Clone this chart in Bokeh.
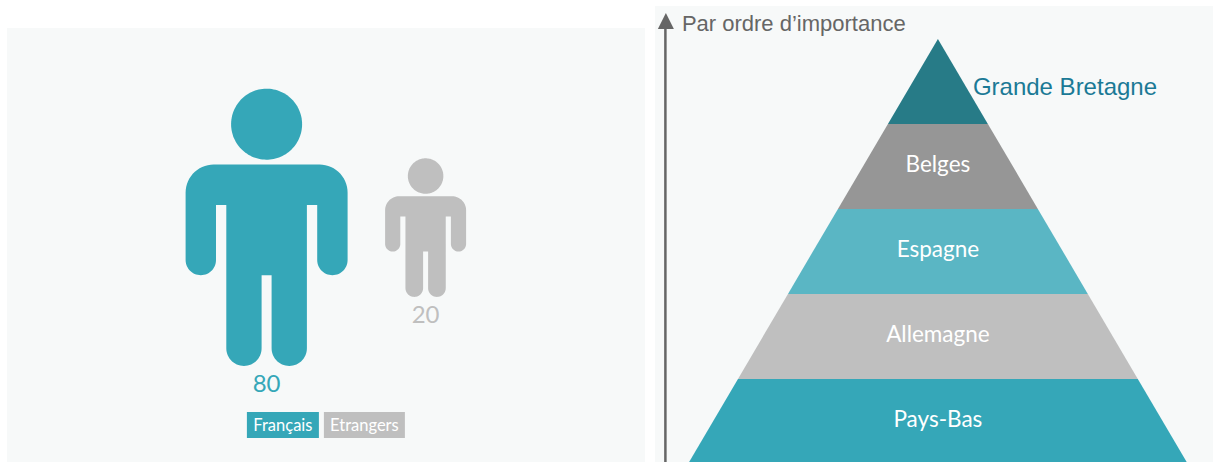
import numpy as np
from bokeh.plotting import figure
from bokeh.models import Range1d
from bokeh.core.properties import value
from bokeh.embed import file_html
from bokeh.resources import INLINE

people_labels = ["Français", "Etrangers"]
people_values = [80, 20]
people_colors = ["#35A7B8", "#BFBFBF"]
people_cx = [266.7, 425.7]
people_top = [89, 158.5]

pyramid_labels = ["Grande Bretagne", "Belges", "Espagne", "Allemagne", "Pays-Bas"]
pyramid_colors = ["#277B87", "#969696", "#5AB6C4", "#BFBFBF", "#35A7B8"]
axis_title = "Par ordre d’importance"

NARROW = value("Lato")
SANS = value("Liberation Sans")
W, H = 1213, 462
SHIFT = 0.6

p = figure(width=W, height=H, output_backend="svg", toolbar_location=None,
           x_range=Range1d(SHIFT, W + SHIFT), y_range=Range1d(H + SHIFT, SHIFT),
           x_axis_type=None, y_axis_type=None, min_border=0,
           outline_line_color=None, background_fill_color="white",
           border_fill_color="white")
p.grid.visible = False
BOTTOM, RIGHT = H + 2, W + 2

# panels
PANEL = "#F7F9F9"
p.quad(left=[7, 655], right=[645, RIGHT], top=[28, 6], bottom=[BOTTOM, BOTTOM],
       fill_color=PANEL, line_color=None)


def fillet(pts):
    """Polygon vertices (x, y, r) to a path with rounded corners."""
    out_x, out_y = [], []
    n = len(pts)
    for i in range(n):
        x, y, r = pts[i]
        if r == 0:
            out_x.append(x); out_y.append(y)
            continue
        a = np.array(pts[i - 1][:2], float)
        b = np.array([x, y], float)
        c = np.array(pts[(i + 1) % n][:2], float)
        u = (a - b) / np.linalg.norm(a - b)
        v = (c - b) / np.linalg.norm(c - b)
        centre = b + (u + v) * r
        a0 = np.arctan2(-v[1], -v[0])
        a1 = np.arctan2(-u[1], -u[0])
        d = (a1 - a0 + np.pi) % (2 * np.pi) - np.pi
        for t in np.linspace(0, 1, 16):
            ang = a0 + d * t
            out_x.append(centre[0] + r * np.cos(ang))
            out_y.append(centre[1] + r * np.sin(ang))
    return np.array(out_x), np.array(out_y)


# silhouette in units of the 80-person, right half then mirrored
half = [(0, 75.7, 0), (81, 75.7, 28), (81, 186.3, 15.2), (50.6, 186.3, 15.2),
        (50.6, 116, 0), (40.3, 116, 0), (40.3, 277, 17.6), (5, 277, 17.6), (5, 186.3, 0)]
outline = half + [(-x, y, r) for x, y, r in reversed(half[1:])]
bx, by = fillet(outline)

for val, col, cx, top in zip(people_values, people_colors, people_cx, people_top):
    s = np.sqrt(val / people_values[0])
    p.patch(cx + bx * s, top + by * s, fill_color=col, line_color=None)
    th = np.linspace(0, 2 * np.pi, 120)
    p.patch(cx + 35.5 * s * np.cos(th), top + s * (35.3 + 35.5 * np.sin(th)),
            fill_color=col, line_color=None)
    p.text([cx], [top + 277 * s + 18], text=[str(val)], text_color=col,
           text_font=NARROW, text_font_size="24px", text_align="center", text_baseline="middle")

# legend
leg_l = [247, 324]
leg_r = [319, 405]
p.quad(left=leg_l, right=leg_r, top=[412] * 2, bottom=[438] * 2, fill_color=people_colors, line_color=None)
p.text([(a + b) / 2 for a, b in zip(leg_l, leg_r)], [425] * 2, text=people_labels, text_color="white",
       text_font=NARROW, text_font_size="16.5px", text_align="center", text_baseline="middle")

# pyramid
APEX_X, APEX_Y, BAND, SLOPE = 938, 39, 85, 0.588
for i, (lab, col) in enumerate(zip(pyramid_labels, pyramid_colors)):
    y0, y1 = APEX_Y + i * BAND, APEX_Y + (i + 1) * BAND
    w0, w1 = (y0 - APEX_Y) * SLOPE, (y1 - APEX_Y) * SLOPE
    p.patch([APEX_X - w0, APEX_X + w0, APEX_X + w1, APEX_X - w1], [y0, y0, y1, y1],
            fill_color=col, line_color=None)
    if i == 0:
        p.text([973], [87], text=[lab], text_color="#1B7A96", text_font=SANS, text_font_size="24px",
               text_align="left", text_baseline="middle")
    else:
        p.text([APEX_X], [(y0 + y1) / 2 - 2.5], text=[lab], text_color="white", text_font=NARROW,
               text_font_size="22.5px", text_align="center", text_baseline="middle")

# importance arrow
p.line([665.5, 665.5], [BOTTOM, 27], line_color="#666666", line_width=2.5)
p.patch([658, 666, 674], [29, 13, 29], fill_color="#666666", line_color=None)
p.text([682], [24], text=[axis_title], text_color="#666666", text_font=SANS, text_font_size="22px",
       text_align="left", text_baseline="middle")

open("out.html", "w").write(file_html(p, INLINE))
